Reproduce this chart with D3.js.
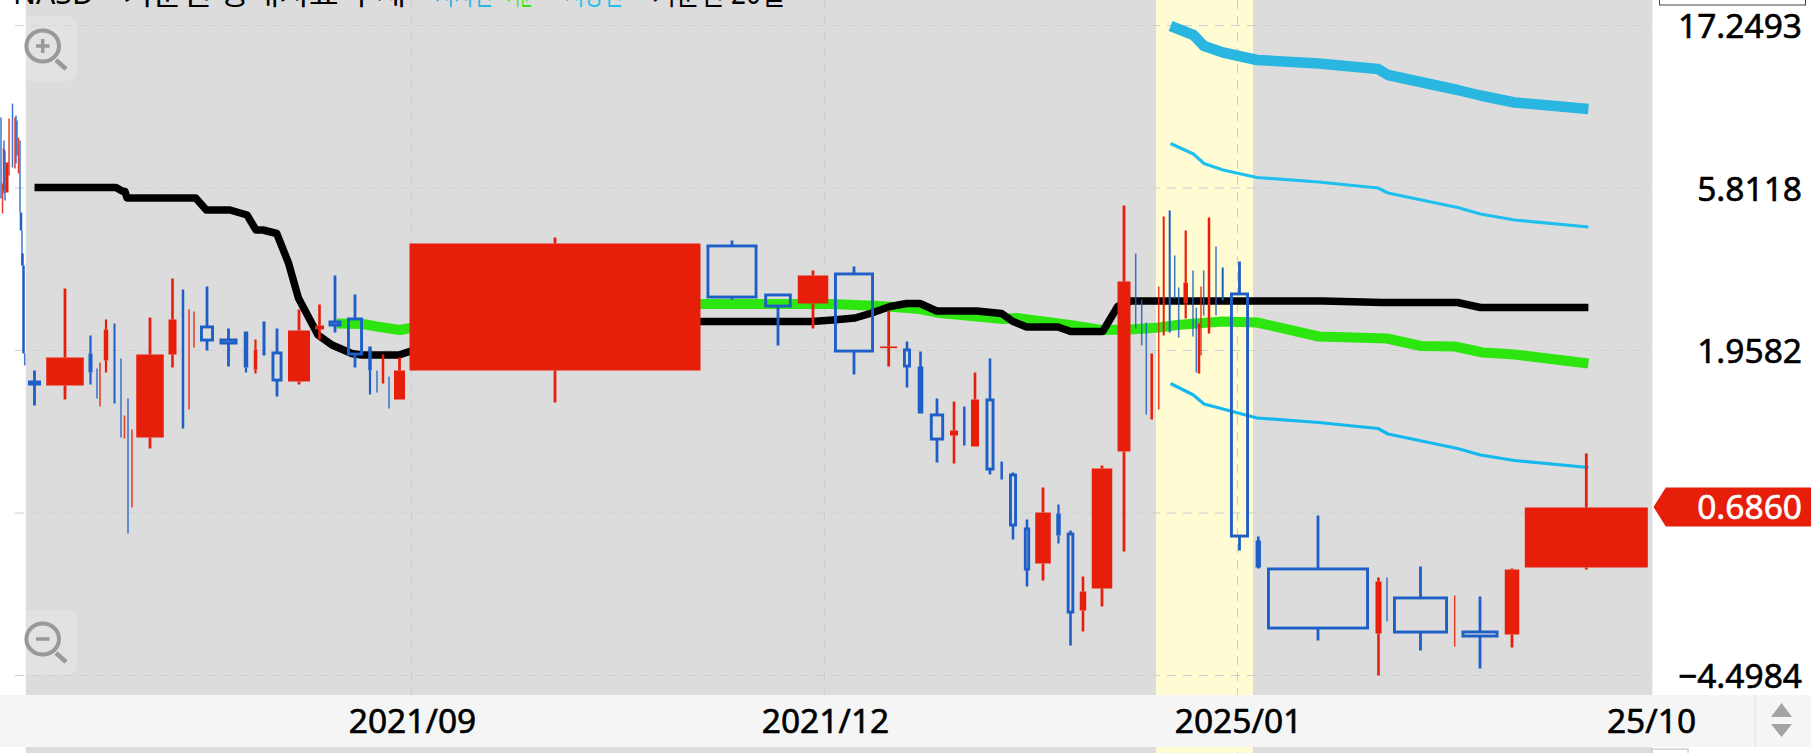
<!DOCTYPE html>
<html lang="ko"><head><meta charset="utf-8">
<script src="https://cdn.jsdelivr.net/npm/d3@7/dist/d3.min.js"></script>
<style>html,body{margin:0;padding:0;background:#fff;overflow:hidden}svg{display:block}text{font-family:"Noto Sans","Noto Sans CJK KR",sans-serif}</style>
</head><body><div id="chart"></div>
<script>
// Values are read off the picture. The price axis is a log scale with unevenly labelled lines,
// so prices are kept as axis points (162.5 points = one gridline step, 0 = lowest gridline).
// The time axis is compressed unevenly by the source, so time is kept in slots from the first labelled tick.
const xTickSlots=[0,413,826,1239];
const xTickLabels=["2021/09","2021/12","2025/01","25/10"];
const yTickPoints=[0,325,487.5,650];
const yTickLabels=["\u22124.4984","1.9582","5.8118","17.2493"];
const lastPoint=168.5;
const lastLabel="0.6860";
const highlightSlots=[744,841];

const candleSlot=[-411,-409.5,-408.5,-408,-407,-405,-403,-399.5,-397,-396,-395,-393.5,-392,-391,-390,-389.5,-388.5,-387.3,
-377.5,-347,-321.5,-315,-312,-306,-297.5,-291,-287.5,-284,-280,-262,-239.5,-229,-223,-218,
-205,-183.5,-166,-156.5,-148,-135,-113,-92.5,-77,-57,-42,-35,-29,-23,-12.5,143,
320,366,401,442,476.7,495,508.5,525,542,552.3,563,578,589.7,601,615,631,646.5,658.5,671,690,712,
723.7,729.7,734.3,739.7,746.7,751.7,757.7,762.7,766.7,773.7,781,784.3,787,789,791.7,797,804,810.7,
827.5,846.3,906,966.5,975,1008.5,1042.7,1068,1100,1174.3];
const candleSpan=[1.5,1.5,1.5,1.5,1.5,3,1.5,1.5,1.5,1.5,1.5,1.5,1.5,2.5,1.5,2.5,2.5,1.5,
13,37.5,4,1.5,1.5,4.5,2,1.5,1.5,1.5,1.5,27.5,8,2.5,1.5,1.5,
14,18,4.5,3.5,3,11,22,9,13,16,3.5,1.5,2.5,1.5,11,291,
51,27.5,30.5,40,17,8,5.6,14.3,8,2.5,8,9,2.5,8,6.3,15.5,4.5,7.6,6.5,20.5,13,
1.5,1.5,1.5,2.5,1.5,2,2,1.5,1.5,4.5,1.5,1.5,2.5,1.5,1.5,2.5,1.5,2,
19,5.3,102,6,1.5,55,1.5,37,14.5,123];
const candleOpen=[558,462,485,535,525,483,500,572,507,560,555,502,535,463,445,422,410,322,
294,290,322,307,269,315,352,317,237,277,168,238,321,386,266,328,
349,336,344,306,354,323,294,346,354,357,329,305,292,299,276,305,
430,381,372,402,328,326,308,261,240,269,229,276,214,201,147,112,162,142,65,87,224,
422,376,353,256,266,340,465,420,388,372,405,368,302,320,405,342,429,408,
382,134,107,42,98,78,29,44,41,108];
const candleClose=[477,492,527,482,475,513,557,508,558,512,520,538,463,445,410,410,322,310,
291,318,303,277,313,346,272,238,260,142,246,321,356,247,366,364,
335,332,308,326,320,295,345,350,350,321,305,283,321,267,305,432,
378,369,400,324,329,309,263,236,245,230,276,206,196,150,106,163,140,63,84,207,394,
347,330,261,322,389,459,343,377,338,393,339,303,352,389,360,458,360,375,
139,109,47,94,54,43,80,39,106,168];
const candleHigh=[558,492,527,535,525,513,557,572,558,560,555,538,535,463,445,422,410,322,
305,387,340,307,313,356,352,317,260,277,246,358,397,386,366,364,
389,347,344,336,354,347,366,371,400,381,329,305,321,299,318,438,
435,381,405,409,365,334,324,277,274,269,303,317,214,203,156,188,171,145,99,210,470,
422,376,353,322,389,459,465,420,388,445,405,368,352,389,405,458,429,408,
414,139,160,98,98,109,80,79,107,222];
const candleLow=[477,462,485,482,475,483,500,508,507,512,520,502,463,445,410,410,322,310,
270,276,291,277,269,303,272,238,237,142,168,227,308,247,266,328,
325,309,303,302,320,279,291,336,343,308,281,283,292,267,276,273,
376,330,347,301,309,288,263,213,212,230,229,201,196,136,89,95,132,30,44,69,124,
347,330,261,256,266,340,343,377,338,357,339,303,302,320,360,342,360,375,
125,107,35,0,54,25,29,7,28,106];

const kijunSlot=[-377.5,-296,-290,-287,-285,-216.3,-205.7,-182,-165,-156,-149,-135.3,-123.5,-113.6,-94,-80,-60.2,-50.3,-13,-1,288,399.7,421,443,459.7,478,494.7,508,524.7,564.7,589.7,601,614.7,646,658.7,690.7,705.7,718.7,911,970.5,1045.6,1068.4,1176.4];
const kijunValue=[488,488,484.5,484,477.5,477.5,465.5,465.5,460.5,445.5,445.5,442,412.5,377.5,340.5,330.5,322,320.5,320.5,324.5,354,354,355.5,357.5,362.5,369,372,372,364.5,364.5,362,354,348.5,348.5,344,344,369,374.5,374.5,373,373,368,368];
const trendSlot=[-75.3,-49,-35.3,-12,-1.3,288,418,468,508,528,591,604.7,631,658,689.7,718,747,765,797,811,845,906.7,975,1009,1043,1070.7,1102.6,1176.4];
const trendValue=[352,351.5,349,345.5,347.5,371.5,371.5,369.5,366.5,362.5,356.5,357.5,354,350.5,345.5,346,348,350.5,353,354,353,339,337,329.5,329,323,321,312];
const bandSlot=[758.6,781.4,792,811,845,906.7,966,976,1045.6,1068.4,1102.6,1176.4];
const bandOuter=[649.5,640.5,629.5,623,615.5,612,606.5,600.5,585.5,580,573,566.5];
const bandUpper=[532,521.5,512,505.5,498,493.5,487.5,482.5,468,461.5,455.5,448.5];
const bandLower=[292,280.5,271.5,266.5,257.5,253,247,241.5,227,220.5,215,208];

const W=1811,H=753,L=25.7,R=1652.6,STRIP0=695,STRIP1=747;
const RED="#e61e0a",BLUE="#1d5fc6";
const x=d3.scaleLinear().domain([0,1239]).range([412,1651]);
const y=d3.scaleLinear().domain([0,650]).range([675.5,25.5]);
const svg=d3.select("#chart").append("svg").attr("width",W).attr("height",H);

// panel
svg.append("rect").attr("x",L).attr("y",0).attr("width",R-L).attr("height",H).attr("fill","#dcdcdc");
svg.append("rect").attr("x",x(highlightSlots[0])).attr("y",0).attr("width",x(highlightSlots[1])-x(highlightSlots[0])).attr("height",H).attr("fill","#fffbd2");

// grid
const grid=svg.append("g").attr("fill","none").attr("stroke","#cfcfcf").attr("stroke-width",1.2).attr("stroke-dasharray","9 7");
grid.selectAll("line.h").data([0,162.5,325,487.5,650]).join("line").attr("class","h")
 .attr("x1",15).attr("x2",1650).attr("y1",d=>y(d)).attr("y2",d=>y(d));
grid.selectAll("line.v").data(xTickSlots.slice(0,3)).join("line").attr("class","v")
 .attr("x1",d=>x(d)-0.5).attr("x2",d=>x(d)-0.5).attr("y1",0).attr("y2",H);

// header (cut by the top edge in the reference)
const head=svg.append("g").attr("font-size",30);
[["NASD",13,81,"#000"],["기준선 상대지표 추세",123,283,"#000"],["지지선",435,58,"#2fb4e0"],["기준",507,26,"#2ee60f"],["저항선",565,58,"#1fc0ee"],["기준선 20일",652,133,"#000"]]
 .forEach(t=>head.append("text").attr("x",t[1]).attr("y",4).attr("fill",t[3]).attr("textLength",t[2]).attr("lengthAdjust","spacingAndGlyphs").text(t[0]));

// indicator lines
const line=(xs,ys)=>d3.line().x((d,i)=>x(xs[i])).y(d=>y(d)).curve(d3.curveLinear)(ys);
const drawLine=(xs,ys,c,w)=>svg.append("path").attr("d",line(xs,ys)).attr("fill","none").attr("stroke",c).attr("stroke-width",w).attr("stroke-linejoin","round");
drawLine(bandSlot,bandOuter,"#29b6e0",10.5);
drawLine(bandSlot,bandUpper,"#1fc0ee",3.2);
drawLine(bandSlot,bandLower,"#14b8ee",3.2);
drawLine(trendSlot,trendValue,"#2ee60f",10);
drawLine(kijunSlot,kijunValue,"#000",7.5);

// candles
const candles=candleSlot.map((s,i)=>({s,span:candleSpan[i],o:candleOpen[i],c:candleClose[i],h:candleHigh[i],l:candleLow[i]}));
const cg=svg.append("g");
const g=cg.selectAll("g").data(candles).join("g");
const wickW=d=>d.span<2.6?d.span:d.span<4.8?2.2:d.span<10?2.6:2.8;
const wickC=d=>d.c>d.o?RED:BLUE;
const wick=(sel,from,to)=>sel.append("line").attr("x1",d=>x(d.s)).attr("x2",d=>x(d.s)).attr("y1",d=>y(from(d))).attr("y2",d=>y(to(d)))
 .attr("stroke",wickC).attr("stroke-width",wickW).attr("stroke-opacity",d=>d.span<2?0.85:1);
wick(g,d=>d.h,d=>Math.max(d.o,d.c));
wick(g,d=>Math.min(d.o,d.c),d=>d.l);
const sw=2.9;
g.append("rect").each(function(d){
  const up=d.c>d.o, hollow=!up&&d.span>=4.8;
  const t=y(Math.max(d.o,d.c)),b=y(Math.min(d.o,d.c));
  const r=d3.select(this);
  if(hollow){
    r.attr("x",x(d.s)-d.span/2+sw/2).attr("width",d.span-sw).attr("y",t+sw/2-1).attr("height",Math.max(1,b-t-sw+2))
     .attr("fill","none").attr("stroke",BLUE).attr("stroke-width",sw);
  }else{
    r.attr("x",x(d.s)-d.span/2).attr("width",d.span).attr("y",t).attr("height",Math.max(1.6,b-t))
     .attr("fill",up?RED:BLUE).attr("fill-opacity",d.span<2?0.85:1);
  }
});

// zoom buttons
function zoomBtn(cy,rectY,plus){
  const b=svg.append("g");
  b.append("rect").attr("x",14).attr("y",rectY).attr("width",63).attr("height",65).attr("rx",9).attr("fill","#fff").attr("fill-opacity",0.18);
  b.append("ellipse").attr("cx",42.7).attr("cy",cy).attr("rx",16.3).attr("ry",15.5).attr("fill","none").attr("stroke","#999").attr("stroke-width",4);
  b.append("line").attr("x1",56).attr("y1",cy+14).attr("x2",66).attr("y2",cy+23).attr("stroke","#999").attr("stroke-width",4.5);
  b.append("line").attr("x1",36).attr("x2",49.5).attr("y1",cy).attr("y2",cy).attr("stroke","#999").attr("stroke-width",3.5);
  if(plus)b.append("line").attr("x1",42.7).attr("x2",42.7).attr("y1",cy-7).attr("y2",cy+7).attr("stroke","#999").attr("stroke-width",3.5);
}
zoomBtn(46,16,true);
zoomBtn(639,610,false);

// right gutter and time strip
svg.append("rect").attr("x",R).attr("y",0).attr("width",W-R).attr("height",H).attr("fill","#fff");
svg.append("rect").attr("x",1659.5).attr("y",-5).attr("width",146).attr("height",10).attr("fill","#fff").attr("stroke","#444").attr("stroke-width",1);
svg.append("rect").attr("x",0).attr("y",STRIP0).attr("width",W).attr("height",STRIP1-STRIP0).attr("fill","#f5f5f5");
svg.append("rect").attr("x",1652).attr("y",749).attr("width",36).attr("height",10).attr("fill","#fff").attr("stroke","#bbb");
svg.append("line").attr("x1",1755).attr("x2",1755).attr("y1",STRIP0).attr("y2",STRIP1).attr("stroke","#e0e0e0");
svg.append("path").attr("d",d3.line()([[1771,717],[1781.5,703],[1792,717]])+"Z").attr("fill","#a3a3a3");
svg.append("path").attr("d",d3.line()([[1771,724],[1792,724],[1781.5,737]])+"Z").attr("fill","#a3a3a3");

// axes
const xAxis=d3.axisBottom(x).tickValues(xTickSlots).tickFormat((d,i)=>xTickLabels[i]).tickSize(0).tickPadding(0);
const xg=svg.append("g").attr("transform","translate(0,702)").call(xAxis);
xg.select(".domain").remove();
xg.selectAll("text").attr("font-size",33.5).attr("fill","#000").attr("stroke","#000").attr("stroke-width",0.6).attr("y",0).attr("dy","0.93em").style("font-family",'"Noto Sans",sans-serif');
const yAxis=d3.axisRight(y).tickValues(yTickPoints).tickFormat((d,i)=>yTickLabels[i]).tickSize(0).tickPadding(0);
const yg=svg.append("g").attr("transform","translate(1802,0)").call(yAxis);
yg.select(".domain").remove();
yg.selectAll("text").attr("font-size",33.5).attr("fill","#000").attr("stroke","#000").attr("stroke-width",0.6).attr("text-anchor","end").attr("x",0).attr("dy","0.37em").style("font-family",'"Noto Sans",sans-serif');

// last price tag
const ty=y(lastPoint);
svg.append("path").attr("d",d3.line()([[1653.5,ty],[1665.8,ty-19.5],[W,ty-19.5],[W,ty+19.5],[1665.8,ty+19.5]])+"Z").attr("fill",RED);
svg.append("text").attr("x",1802).attr("y",ty).attr("dy","0.37em").attr("text-anchor","end").attr("font-size",33.5).attr("fill","#fff").attr("stroke","#fff").attr("stroke-width",0.6).text(lastLabel);
</script></body></html>
